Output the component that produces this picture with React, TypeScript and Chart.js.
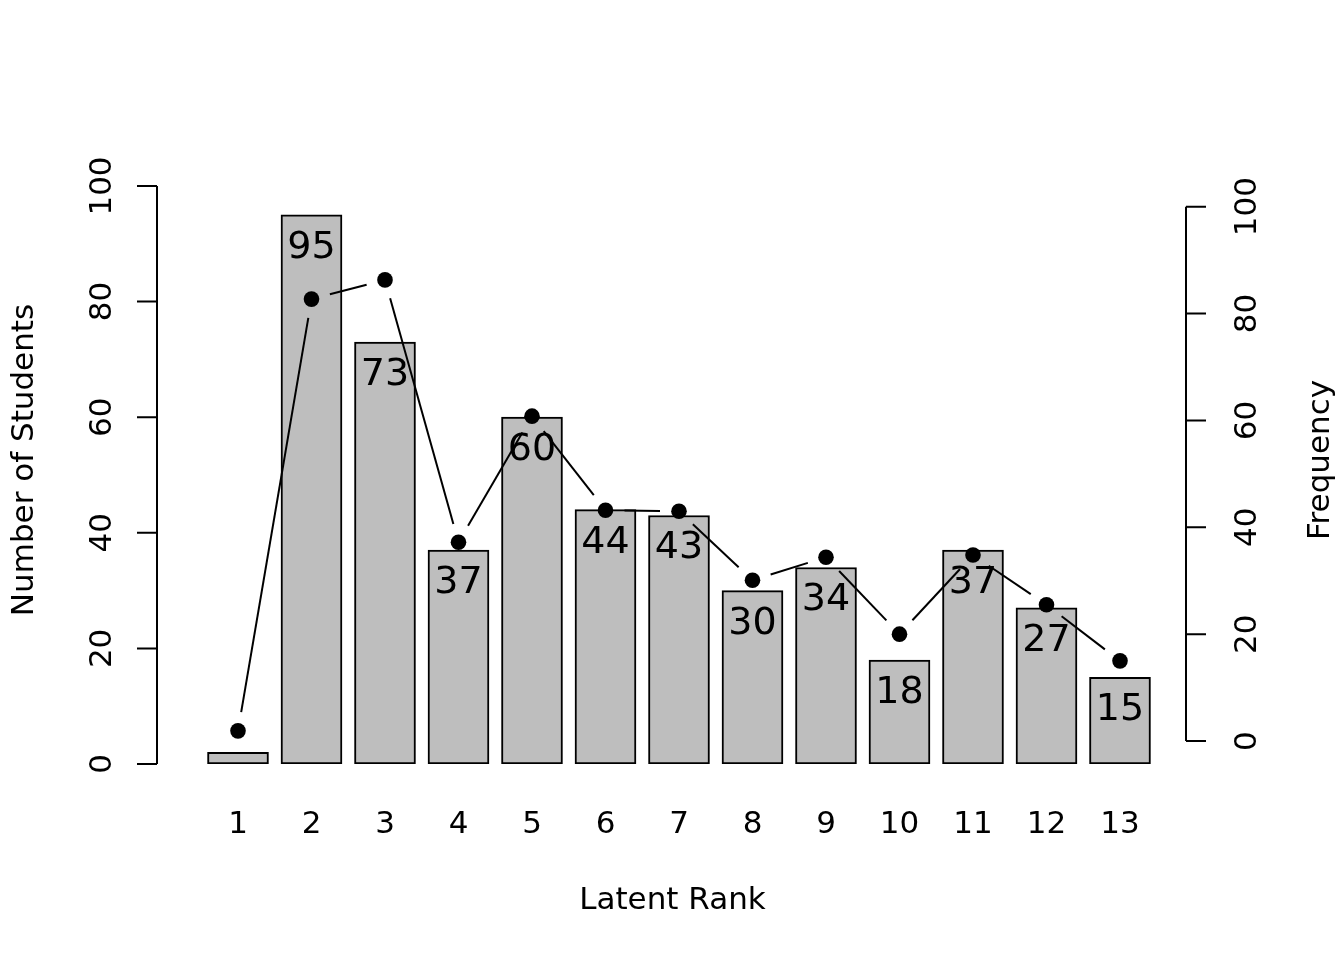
import React, { useEffect, useRef } from "react";
import { Chart, registerables } from "chart.js";

Chart.register(...registerables);

const ranks = ["1", "2", "3", "4", "5", "6", "7", "8", "9", "10", "11", "12", "13"];
const students = [2, 95, 73, 37, 60, 44, 43, 30, 34, 18, 37, 27, 15];
const frequency = [1.9, 82.7, 86.3, 37.2, 60.8, 43.2, 43.0, 30.1, 34.4, 20.0, 34.8, 25.5, 15.0];
const leftTicks = [0, 20, 40, 60, 80, 100];
const rightTicks = [0, 20, 40, 60, 80, 100];

const FONT = '31px "DejaVu Sans"';
const LABEL_FONT = '38px "DejaVu Sans"';

const drawPlugin = {
  id: "rstyle",
  afterDatasetDraw(chart: any, args: any) {
    if (args.index !== 0) return;
    const ctx = chart.ctx;
    const xs = chart.scales.x;
    const ys = chart.scales.y;
    ctx.save();
    ctx.fillStyle = "#000";
    ctx.font = LABEL_FONT;
    ctx.textAlign = "center";
    ctx.textBaseline = "alphabetic";
    students.forEach((v, i) => {
      const top = ys.getPixelForValue(v);
      const base = ys.getPixelForValue(0);
      if (base - top > 40) {
        ctx.fillText(String(v), xs.getPixelForValue(i + 1), top + 43);
      }
    });
    ctx.restore();
  },
  afterDatasetsDraw(chart: any) {
    const ctx = chart.ctx;
    const xs = chart.scales.x;
    const ys = chart.scales.y;
    const y2 = chart.scales.y2;
    const area = chart.chartArea;
    ctx.save();
    ctx.strokeStyle = "#000";
    ctx.fillStyle = "#000";
    ctx.lineWidth = 2;

    // connecting lines with gaps (type = "b")
    const pts = frequency.map((v, i) => ({ x: xs.getPixelForValue(i + 1), y: y2.getPixelForValue(v) }));
    const gap = 19;
    for (let i = 0; i < pts.length - 1; i++) {
      const a = pts[i];
      const b = pts[i + 1];
      const dx = b.x - a.x;
      const dy = b.y - a.y;
      const d = Math.hypot(dx, dy);
      if (d <= 2 * gap) continue;
      const ux = dx / d;
      const uy = dy / d;
      ctx.beginPath();
      ctx.moveTo(a.x + ux * gap, a.y + uy * gap);
      ctx.lineTo(b.x - ux * gap, b.y - uy * gap);
      ctx.stroke();
    }

    // left axis
    const lx = area.left;
    ctx.beginPath();
    ctx.moveTo(lx, ys.getPixelForValue(leftTicks[0]));
    ctx.lineTo(lx, ys.getPixelForValue(leftTicks[leftTicks.length - 1]));
    leftTicks.forEach((t) => {
      const y = ys.getPixelForValue(t);
      ctx.moveTo(lx, y);
      ctx.lineTo(lx - 20, y);
    });
    ctx.stroke();

    // right axis
    const rx = area.right;
    ctx.beginPath();
    ctx.moveTo(rx, y2.getPixelForValue(rightTicks[0]));
    ctx.lineTo(rx, y2.getPixelForValue(rightTicks[rightTicks.length - 1]));
    rightTicks.forEach((t) => {
      const y = y2.getPixelForValue(t);
      ctx.moveTo(rx, y);
      ctx.lineTo(rx + 20, y);
    });
    ctx.stroke();

    ctx.font = FONT;
    ctx.textAlign = "center";
    ctx.textBaseline = "alphabetic";

    const rotText = (text: string, x: number, y: number) => {
      ctx.save();
      ctx.translate(x, y);
      ctx.rotate(-Math.PI / 2);
      ctx.fillText(text, 0, 0);
      ctx.restore();
    };

    leftTicks.forEach((t) => rotText(String(t), lx - 46, ys.getPixelForValue(t)));
    rightTicks.forEach((t) => rotText(String(t), rx + 70, y2.getPixelForValue(t)));

    // x labels
    ranks.forEach((r, i) => {
      ctx.fillText(r, xs.getPixelForValue(i + 1), area.bottom + 69);
    });

    // titles
    ctx.fillText("Latent Rank", (area.left + area.right) / 2 + 1, area.bottom + 145);
    rotText("Number of Students", 33, 460);
    rotText("Frequency", 1329, 460);

    ctx.restore();
  },
};

export default function App() {
  const ref = useRef<HTMLCanvasElement | null>(null);
  useEffect(() => {
    if (!ref.current) return;
    const chart = new Chart(ref.current, {
      type: "bar",
      data: {
        datasets: [
          {
            type: "bar",
            label: "Number of Students",
            data: students.map((v, i) => ({ x: i + 1, y: v })),
            backgroundColor: "#BEBEBE",
            borderColor: "#000000",
            borderWidth: 2,
            borderSkipped: false,
            barThickness: 61,
            xAxisID: "x",
            yAxisID: "y",
            order: 2,
          } as any,
          {
            type: "scatter",
            label: "Frequency",
            data: frequency.map((v, i) => ({ x: i + 1, y: v })),
            pointRadius: 7.8,
            pointBackgroundColor: "#000000",
            pointBorderWidth: 0,
            showLine: false,
            xAxisID: "x",
            yAxisID: "y2",
            order: 1,
          } as any,
        ],
      },
      options: {
        responsive: false,
        animation: false,
        events: [],
        layout: { padding: { left: 157, right: 158, top: 186, bottom: 196 } },
        plugins: { legend: { display: false }, tooltip: { enabled: false } },
        scales: {
          x: { type: "linear", min: -0.102, max: 13.898, offset: false, display: false },
          y: { type: "linear", min: 0, max: 100, display: false },
          y2: { type: "linear", position: "right", min: -4.3, max: 103.87, display: false },
        },
      },
      plugins: [drawPlugin],
    });
    return () => chart.destroy();
  }, []);
  return (
    <div style={{ position: "fixed", left: 0, top: 0, width: 1344, height: 960, background: "#fff" }}>
      <canvas ref={ref} width={1344} height={960} />
    </div>
  );
}
